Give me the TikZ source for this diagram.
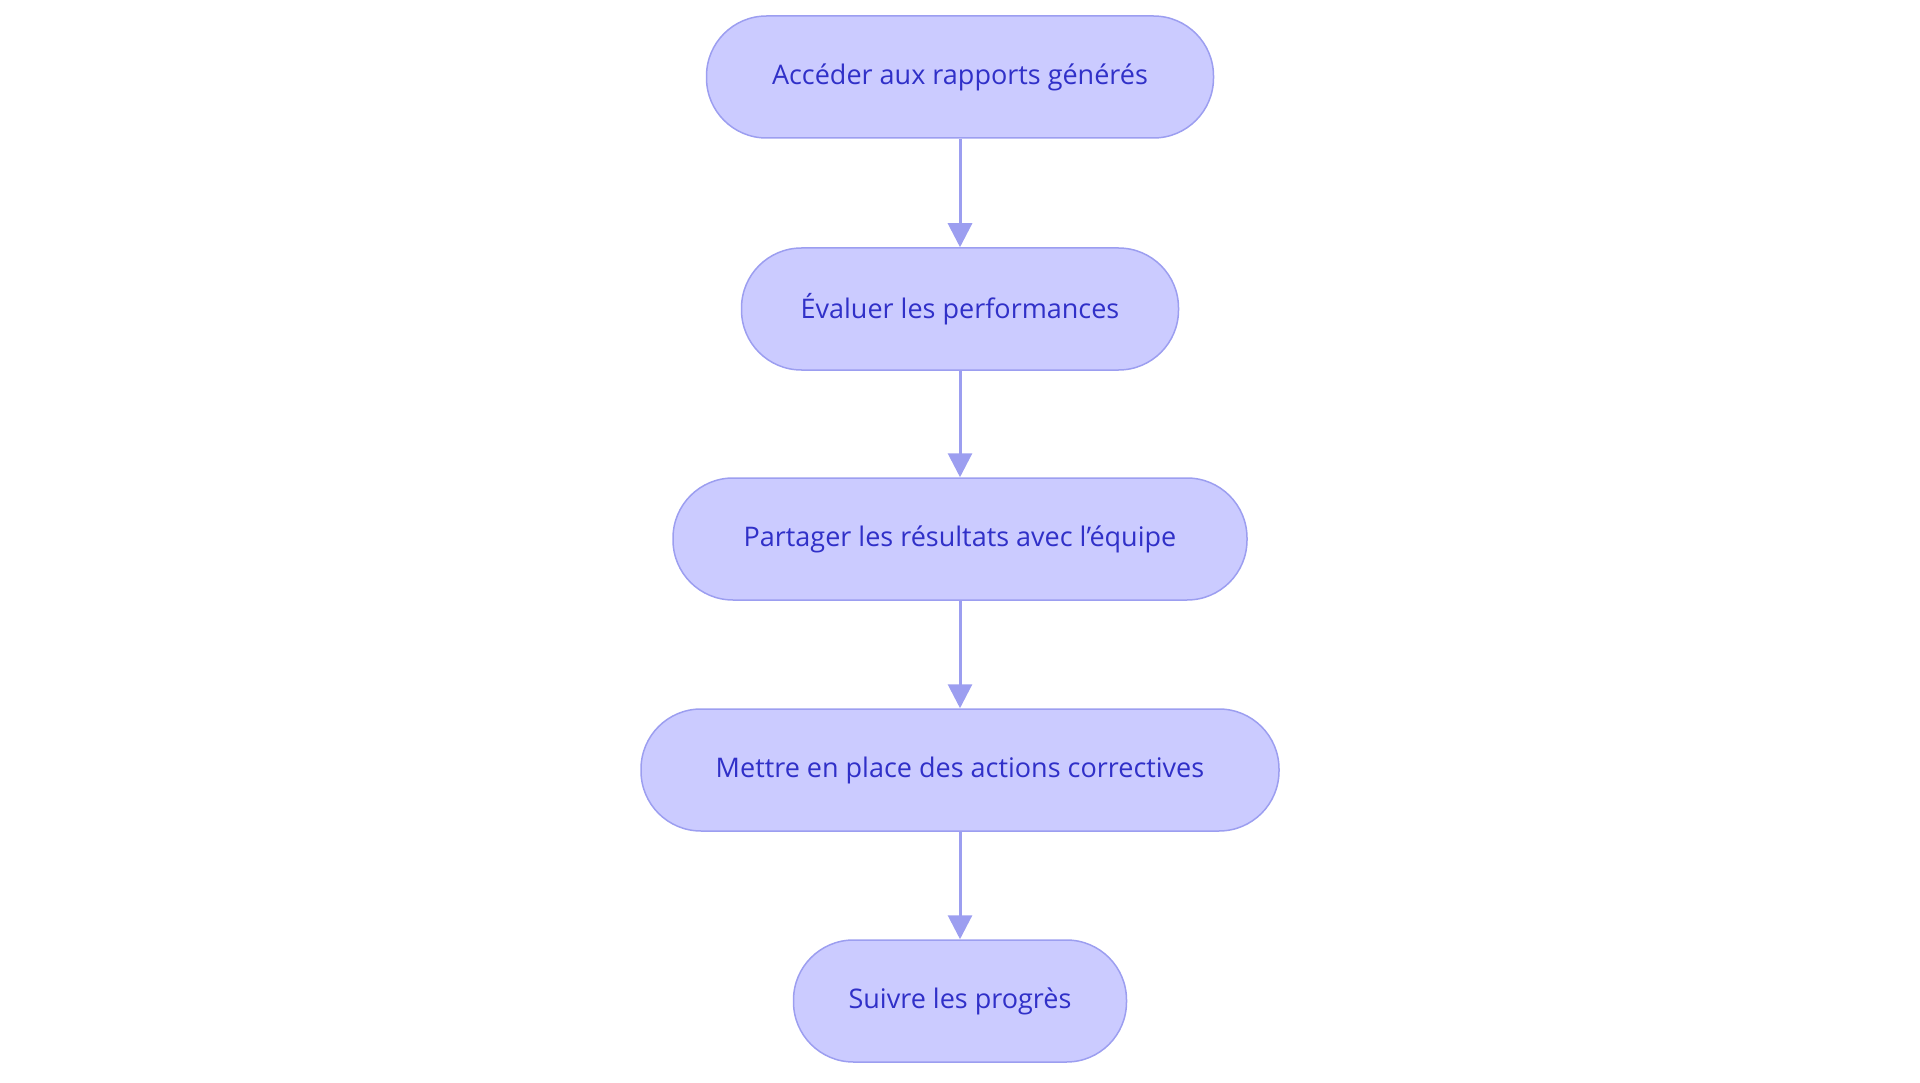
\documentclass[tikz,border=0pt]{standalone}
\usepackage{fontspec}
\setmainfont{Open Sans}
\usetikzlibrary{arrows.meta}
\definecolor{fillc}{HTML}{CBCBFF}
\definecolor{linec}{HTML}{9C9EF0}
\definecolor{textc}{HTML}{3030C8}
\begin{document}
\begin{tikzpicture}[x=1pt,y=-1pt,
  box/.style={draw=linec,line width=1.5pt,fill=fillc,rounded corners=60pt,minimum height=122pt,text=textc,font=\fontsize{27}{32}\selectfont,inner sep=0pt},
  arr/.style={draw=linec,line width=3pt,-{Triangle[length=24pt,width=24pt]}}]
\useasboundingbox (0,0) rectangle (1920,1083);
\node[box,minimum width=507pt] (a) at (960,77) {Accéder aux rapports générés};
\node[box,minimum width=437pt] (b) at (960,309) {Évaluer les performances};
\node[box,minimum width=574pt] (c) at (960,539) {Partager les résultats avec l'équipe};
\node[box,minimum width=638pt] (d) at (960,770) {Mettre en place des actions correctives};
\node[box,minimum width=333pt] (e) at (960,1001) {Suivre les progrès};
\draw[arr] (a) -- (b);
\draw[arr] (b) -- (c);
\draw[arr] (c) -- (d);
\draw[arr] (d) -- (e);
\end{tikzpicture}
\end{document}
